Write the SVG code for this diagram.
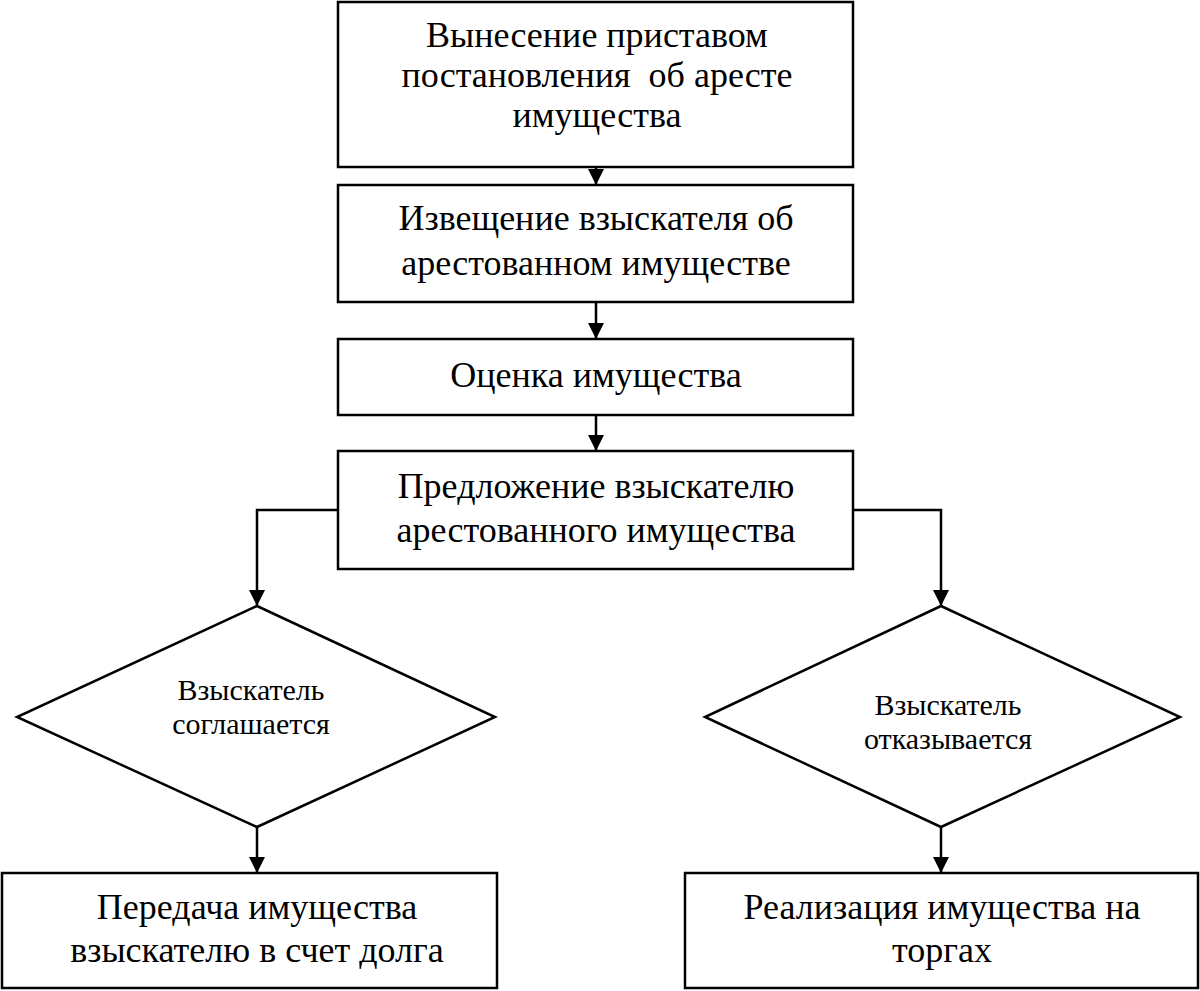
<svg xmlns="http://www.w3.org/2000/svg" width="1200" height="991" viewBox="0 0 1200 991">
<style>
.box{fill:#fff;stroke:#000;stroke-width:2.5}
.t{font-family:"Liberation Serif","Times New Roman",serif;font-size:36px;fill:#000;text-anchor:middle;white-space:pre}
.s{font-family:"Liberation Serif","Times New Roman",serif;font-size:30px;fill:#000;text-anchor:middle}
.c{fill:none;stroke:#000;stroke-width:2.5}
</style>
<defs>
<marker id="ah" markerWidth="16" markerHeight="16" viewBox="0 0 16 16" refX="16" refY="8" orient="auto" markerUnits="userSpaceOnUse">
<path d="M0,0 L16,8 L0,16 Z" fill="#000"/>
</marker>
</defs>
<rect width="1200" height="991" fill="#fff"/>
<g id="connectors">
<line class="c" x1="596" y1="167" x2="596" y2="185" marker-end="url(#ah)"/>
<line class="c" x1="596" y1="302" x2="596" y2="339" marker-end="url(#ah)"/>
<line class="c" x1="596" y1="415" x2="596" y2="451" marker-end="url(#ah)"/>
<polyline class="c" points="338,510 257,510 257,606" marker-end="url(#ah)"/>
<polyline class="c" points="853,510 941,510 941,606" marker-end="url(#ah)"/>
<line class="c" x1="257" y1="827" x2="257" y2="873" marker-end="url(#ah)"/>
<line class="c" x1="941" y1="827" x2="941" y2="873" marker-end="url(#ah)"/>
</g>
<g id="n1">
<rect class="box" x="338" y="2" width="515" height="165"/>
<text class="t" x="597" y="47">Вынесение приставом</text>
<text class="t" x="597" y="87">постановления  об аресте</text>
<text class="t" x="597" y="127">имущества</text>
</g>
<g id="n2">
<rect class="box" x="338" y="185" width="515" height="117"/>
<text class="t" x="596" y="230">Извещение взыскателя об</text>
<text class="t" x="596" y="275">арестованном имуществе</text>
</g>
<g id="n3">
<rect class="box" x="338" y="339" width="515" height="76"/>
<text class="t" x="596" y="387">Оценка имущества</text>
</g>
<g id="n4">
<rect class="box" x="338" y="451" width="515" height="118"/>
<text class="t" x="596" y="498">Предложение взыскателю</text>
<text class="t" x="596" y="542">арестованного имущества</text>
</g>
<g id="d1">
<polygon class="box" points="257,606 495,717 257,827 17,717"/>
<text class="s" x="251" y="700">Взыскатель</text>
<text class="s" x="251" y="734">соглашается</text>
</g>
<g id="d2">
<polygon class="box" points="941,606 1180,717 941,827 705,717"/>
<text class="s" x="948" y="715">Взыскатель</text>
<text class="s" x="948" y="749">отказывается</text>
</g>
<g id="n5">
<rect class="box" x="2" y="873" width="495" height="115"/>
<text class="t" x="257" y="919">Передача имущества</text>
<text class="t" x="257" y="962">взыскателю в счет долга</text>
</g>
<g id="n6">
<rect class="box" x="685" y="873" width="513" height="115"/>
<text class="t" x="942" y="919">Реализация имущества на</text>
<text class="t" x="942" y="962">торгах</text>
</g>
</svg>
